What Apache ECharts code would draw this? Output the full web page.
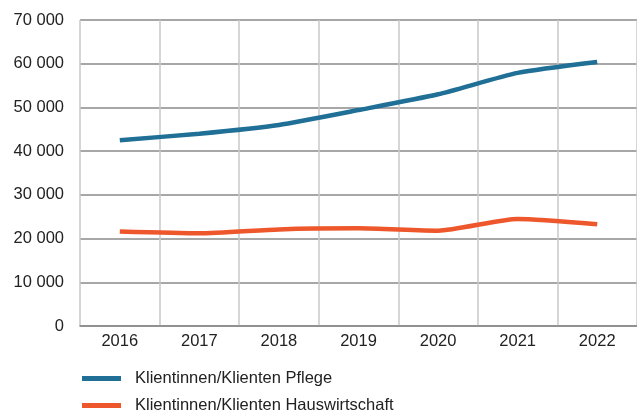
<!DOCTYPE html>
<html>
<head>
<meta charset="utf-8">
<script src="https://cdn.jsdelivr.net/npm/echarts@6/dist/echarts.min.js"></script>
<style>
  html, body { margin: 0; padding: 0; background: #fff; }
  #container { width: 637px; height: 412px; }
</style>
</head>
<body>
<div id="container"></div>
<script>
var years = ['2016', '2017', '2018', '2019', '2020', '2021', '2022'];
var pflege = [42500, 44000, 46000, 49400, 53000, 57900, 60400];
var hauswirtschaft = [21600, 21200, 22100, 22350, 21800, 24500, 23300];
var seriesNames = ['Klientinnen/Klienten Pflege', 'Klientinnen/Klienten Hauswirtschaft'];

// Tausender mit Leerzeichen
function fmt(v) {
    return String(v).replace(/\B(?=(\d{3})+(?!\d))/g, ' ');
}

var dom = document.getElementById("container");
var myChart = echarts.init(dom);
var font = 'Liberation Sans, Arial, sans-serif';
var fs = 16.5;

function legendAt(name, top) {
    return {
        orient: 'vertical',
        left: 82,
        top: top,
        padding: 0,
        itemWidth: 39,
        itemHeight: 5,
        icon: 'rect',
        textStyle: { fontSize: fs, color: '#222', fontFamily: font, padding: [0, 0, 0, 9] },
        data: [name]
    };
}

var option = {
    animation: false,
    textStyle: { fontFamily: font },
    grid: {
        left: 80,
        right: -8,
        top: 20,
        bottom: 86,
        containLabel: false
    },
    legend: [
        legendAt(seriesNames[0], 370),
        legendAt(seriesNames[1], 397)
    ],
    xAxis: {
        type: 'category',
        data: years,
        boundaryGap: true,
        axisLine: { show: true, lineStyle: { color: '#8a8a8a', width: 1.5 } },
        axisTick: { show: false },
        axisLabel: { fontSize: fs, color: '#222', margin: 7, fontFamily: font },
        splitLine: { show: true, lineStyle: { color: '#c8c8c8', width: 1.5 } }
    },
    yAxis: {
        type: 'value',
        min: 0,
        max: 70000,
        interval: 10000,
        axisLine: { show: false },
        axisTick: { show: false },
        axisLabel: {
            fontSize: fs, color: '#222', margin: 16, fontFamily: font,
            formatter: function (v) { return fmt(v); }
        },
        splitLine: { lineStyle: { color: '#8a8a8a', width: 1.5 } }
    },
    series: [
        {
            name: seriesNames[0],
            type: 'line',
            data: pflege,
            smooth: 0.2,
            showSymbol: false,
            color: '#1f6f96',
            lineStyle: { width: 4.5, color: '#1f6f96' }
        },
        {
            name: seriesNames[1],
            type: 'line',
            data: hauswirtschaft,
            smooth: 0.2,
            showSymbol: false,
            color: '#ee572b',
            lineStyle: { width: 4.5, color: '#ee572b' }
        }
    ]
};

myChart.setOption(option, true);
</script>
</body>
</html>
